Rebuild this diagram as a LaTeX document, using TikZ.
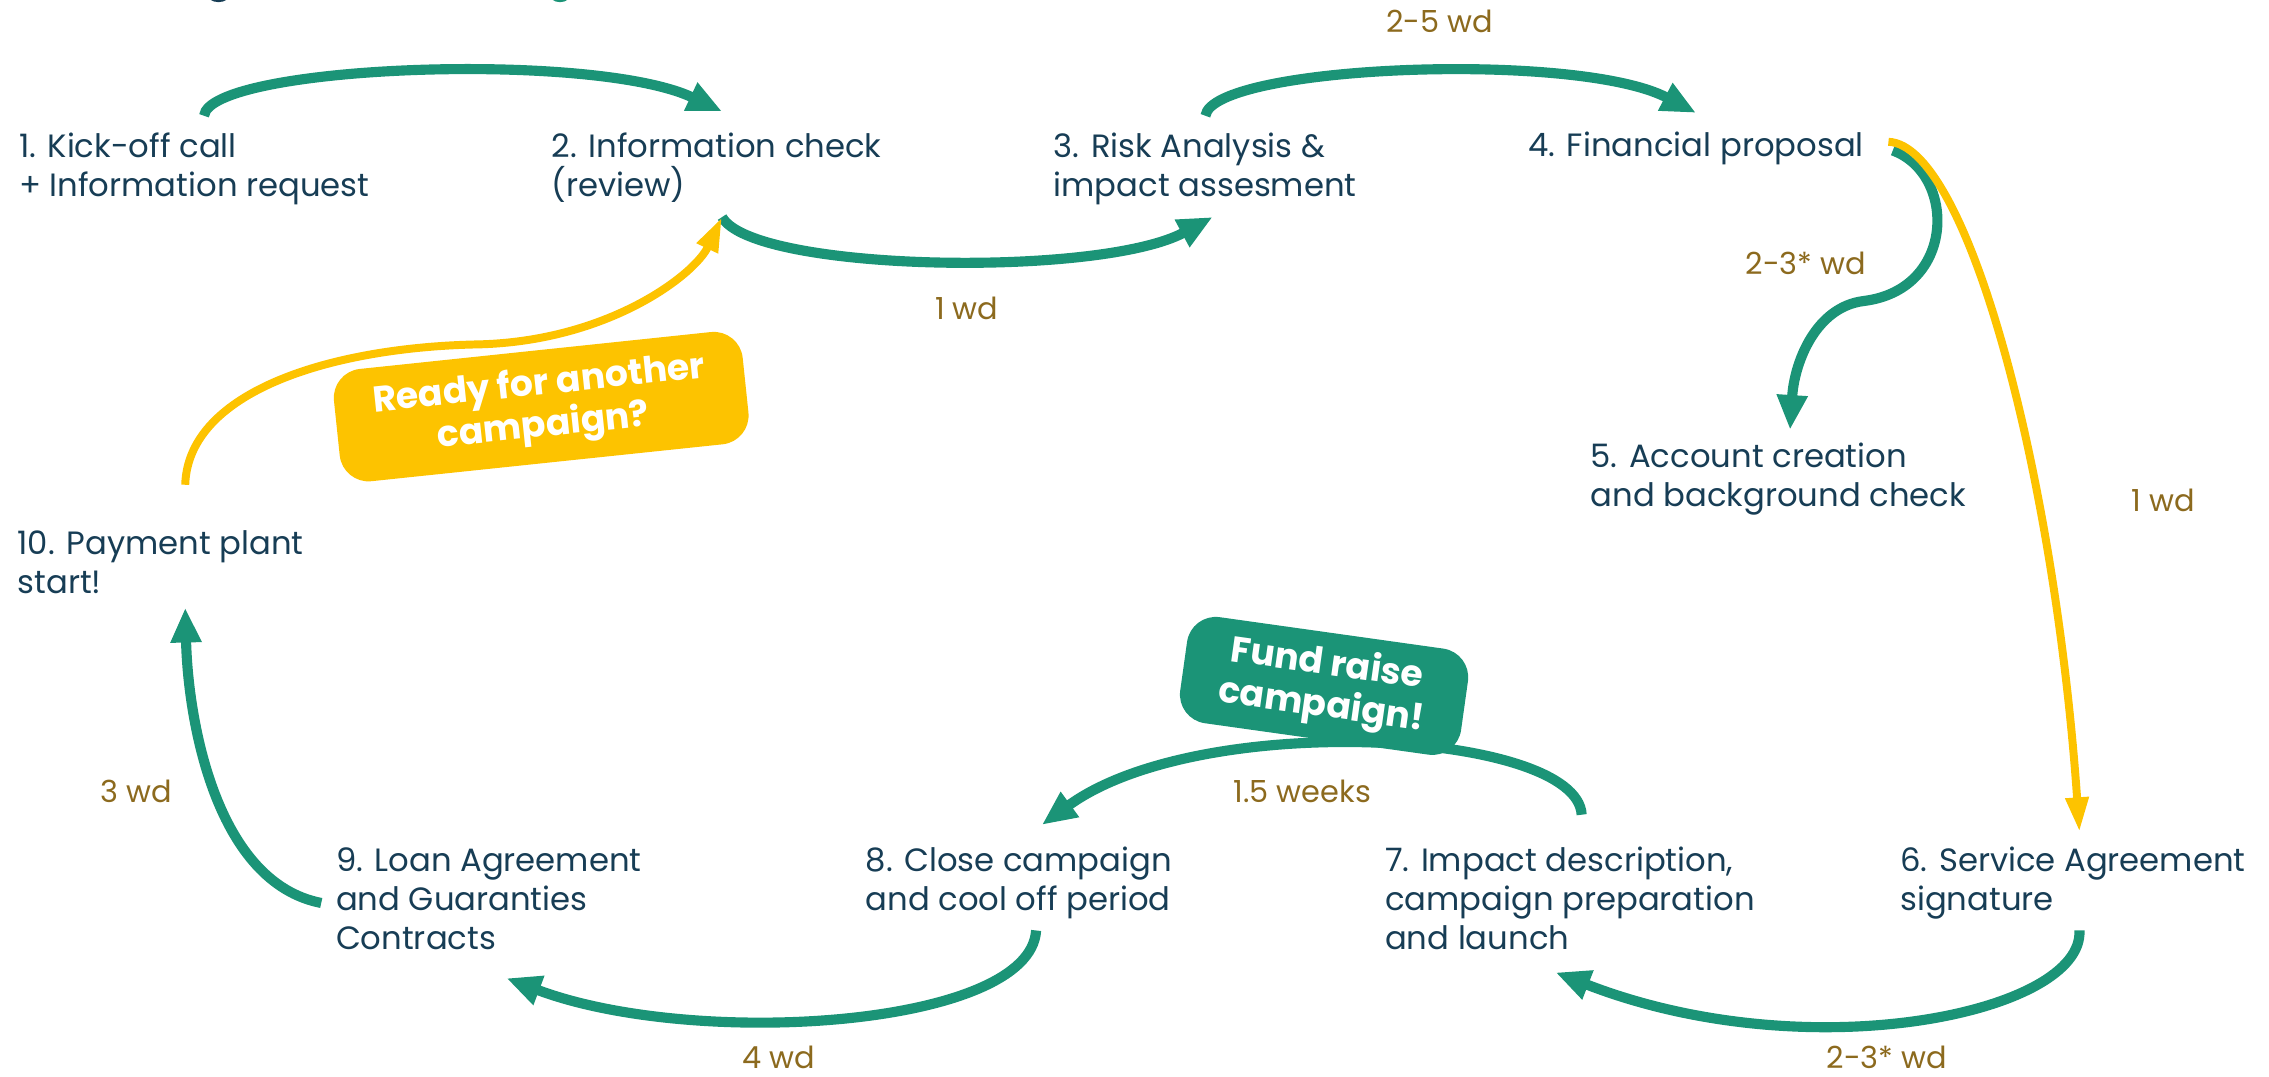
\documentclass[tikz,border=0pt]{standalone}
\usepackage{fontspec}
\setmainfont{Poppins}
\usetikzlibrary{arrows.meta}
\definecolor{flowgreen}{HTML}{1B9477}
\definecolor{flowyellow}{HTML}{FDC300}
\definecolor{navytext}{HTML}{173D55}
\definecolor{labelbrown}{HTML}{8C6A1E}
\begin{document}
\begin{tikzpicture}[x=1pt,y=-1pt,
  stepnode/.style={anchor=base west, align=left, inner sep=0pt, text=navytext, font=\fontsize{22.3}{27}\selectfont},
  durlabel/.style={text=labelbrown, font=\fontsize{21}{25}\selectfont, inner sep=0pt},
  garrow/.style={draw=flowgreen, line width=7pt, -{Triangle[length=24pt,width=20pt]}},
  yarrow/.style={draw=flowyellow, line width=5.5pt, -{Triangle[length=24pt,width=15pt]}},
  tagbox/.style={rounded corners=20pt, text=white, font=\bfseries\fontsize{25}{29}\selectfont, align=center, inner sep=0pt}
]
\useasboundingbox (0,0) rectangle (1568,744);

% cut-off title fragments
\begin{scope}
  \clip (0,0) rectangle (1568,744);
  \fill[navytext] (151,-5) ellipse (8.5 and 6.5);
  \fill[flowgreen] (387,-5) ellipse (8 and 6.5);
\end{scope}

% steps (anchor = baseline of the last line)
\node[stepnode] (s1) at (13,136) {1. Kick-off call\\+ Information request};
\node[stepnode] (s2) at (381,136) {2. Information check\\(review)};
\node[stepnode] (s3) at (728,136) {3. Risk Analysis \&\\impact assesment};
\node[stepnode] (s4) at (1056,108) {4. Financial proposal};
\node[stepnode] (s5) at (1099,350) {5. Account creation\\and background check};
\node[stepnode] (s6) at (1313,629) {6. Service Agreement\\signature};
\node[stepnode] (s7) at (957,656) {7. Impact description,\\campaign preparation\\and launch};
\node[stepnode] (s8) at (598,629) {8. Close campaign\\and cool off period};
\node[stepnode] (s9) at (232,656) {9. Loan Agreement\\and Guaranties\\Contracts};
\node[stepnode] (s10) at (12,410) {10. Payment plant\\start!};

% connector end points
\coordinate (a12s) at (141,80);   \coordinate (a12e) at (499,77);
\coordinate (a23s) at (499,150);  \coordinate (a23e) at (838,150);
\coordinate (a34s) at (833,80);   \coordinate (a34e) at (1172,78);
\coordinate (a45s) at (1308,104); \coordinate (a45k) at (1288,208); \coordinate (a45e) at (1237,297);
\coordinate (a46s) at (1305,98);  \coordinate (a46e) at (1437,575);
\coordinate (a67s) at (1437,643); \coordinate (a67e) at (1075,672);
\coordinate (a78s) at (1093,563); \coordinate (a78e) at (720,570);
\coordinate (a89s) at (716,643);  \coordinate (a89e) at (350,676);
\coordinate (a910s) at (222,624); \coordinate (a910e) at (128,420);
\coordinate (a102s) at (128,335); \coordinate (a102m) at (330,238); \coordinate (a102e) at (499,150);

% connectors
\draw[garrow] (a12s) .. controls (145,45) and (410,35) .. (a12e);
\draw[garrow] (a23s) .. controls (520,188) and (760,192) .. (a23e);
\draw[garrow] (a34s) .. controls (838,45) and (1090,35) .. (a34e);
\draw[garrow] (a45s) .. controls (1352,120) and (1352,200) .. (a45k)
                    .. controls (1255,212) and (1240,250) .. (a45e);
\draw[yarrow] (a46s) .. controls (1360,100) and (1420,330) .. (a46e);
\draw[garrow] (a67s) .. controls (1440,700) and (1250,740) .. (a67e);
\draw[garrow] (a78s) .. controls (1090,505) and (830,490) .. (a78e);
\draw[garrow] (a89s) .. controls (712,710) and (480,725) .. (a89e);
\draw[garrow] (a910s) .. controls (150,610) and (130,500) .. (a910e);
\draw[yarrow] (a102s) .. controls (130,270) and (230,240) .. (a102m)
                      .. controls (420,236) and (480,190) .. (a102e);

% tags
\node[tagbox, fill=flowyellow, rotate=6, minimum width=284pt, minimum height=78pt] (tagready) at (374,281) {Ready for another\\campaign?};
\node[tagbox, fill=flowgreen, rotate=-8, minimum width=196pt, minimum height=74pt] (tagfund) at (915,474) {Fund raise\\campaign!};

% durations
\node[durlabel] (l34) at (995,15) {2-5 wd};
\node[durlabel] (l23) at (668,213) {1 wd};
\node[durlabel] (l45) at (1248,182) {2-3* wd};
\node[durlabel] (l46) at (1495,346) {1 wd};
\node[durlabel] (l910) at (94,547) {3 wd};
\node[durlabel] (l78) at (900,547) {1.5 weeks};
\node[durlabel] (l89) at (538,731) {4 wd};
\node[durlabel] (l67) at (1304,731) {2-3* wd};
\end{tikzpicture}
\end{document}
